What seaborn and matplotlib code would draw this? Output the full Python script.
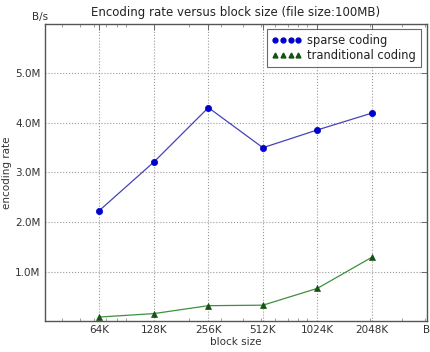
import matplotlib
matplotlib.use("Agg")
import matplotlib.pyplot as plt
from matplotlib.lines import Line2D
from matplotlib.ticker import LogLocator, NullFormatter
import seaborn as sns
import pandas as pd

# block sizes in KB and encoding rates in MB/s
block_sizes = [64, 128, 256, 512, 1024, 2048]
block_labels = ["64K", "128K", "256K", "512K", "1024K", "2048K"]
sparse_rate = [2.23, 3.21, 4.31, 3.50, 3.86, 4.20]
traditional_rate = [0.08, 0.15, 0.31, 0.32, 0.66, 1.29]
y_ticks = [1, 2, 3, 4, 5]
y_labels = ["1.0M", "2.0M", "3.0M", "4.0M", "5.0M"]

sns.set_style("white")
plt.rcParams["font.family"] = ["DejaVu Sans"]
plt.rcParams["xtick.direction"] = "in"
plt.rcParams["ytick.direction"] = "in"

df = pd.DataFrame({
    "block": block_sizes * 2,
    "rate": sparse_rate + traditional_rate,
    "series": ["sparse coding"] * 6 + ["tranditional coding"] * 6,
})

fig = plt.figure(figsize=(4.3, 3.52), dpi=100)
ax = fig.add_axes([0.104, 0.088, 0.888, 0.844])

sp = df[df.series == "sparse coding"]
tr = df[df.series == "tranditional coding"]
sns.lineplot(data=sp, x="block", y="rate", ax=ax, color="#4444bb", lw=0.9,
             marker="o", markersize=4.5, markerfacecolor="#0000cc",
             markeredgecolor="#0000cc", markeredgewidth=0.5)
sns.lineplot(data=tr, x="block", y="rate", ax=ax, color="#3f8f3f", lw=0.9,
             marker="^", markersize=4.5, markerfacecolor="#145214",
             markeredgecolor="#145214", markeredgewidth=0.5)

ax.set_xscale("log")
ax.set_xlim(32, 4096)
ax.set_ylim(0, 6)
ax.set_xticks(block_sizes + [4096])
ax.set_xticklabels(block_labels + ["B"])
ax.xaxis.set_minor_locator(LogLocator(base=10, subs=range(2, 10)))
ax.xaxis.set_minor_formatter(NullFormatter())
ax.set_yticks(y_ticks)
ax.set_yticklabels(y_labels)

ax.tick_params(axis="both", which="major", labelsize=7.5, length=4, width=0.6,
               color="#555555", top=True, right=True, labelcolor="#333333", pad=3)
ax.tick_params(axis="x", which="minor", length=2, width=0.5, color="#777777",
               top=True, bottom=True)

ax.grid(True, which="major", linestyle=":", color="#999999", linewidth=0.8)
for s in ax.spines.values():
    s.set_color("#555555")
    s.set_linewidth(1.0)

ax.set_title("Encoding rate versus block size (file size:100MB)",
             fontsize=8.5, color="#222222", pad=6)
ax.set_xlabel("block size", fontsize=7.5, color="#333333", labelpad=1)
ax.set_ylabel("encoding rate", fontsize=7.5, color="#333333", labelpad=2)
ax.text(0.008, 1.005, "B/s", transform=ax.transAxes, ha="right", va="bottom",
        fontsize=7.5, color="#333333")

handles = [
    Line2D([], [], ls="", marker="o", markersize=3.5, color="#0000cc"),
    Line2D([], [], ls="", marker="^", markersize=3.5, color="#145214"),
]
leg = ax.legend(handles, ["sparse coding", "tranditional coding"],
                loc="upper right", numpoints=4, fontsize=8.3, frameon=True,
                fancybox=False, handlelength=2.6, handletextpad=0.5,
                borderaxespad=0.45, labelspacing=0.15, borderpad=0.45)
leg.get_frame().set_edgecolor("#444444")
leg.get_frame().set_linewidth(0.8)
for t in leg.get_texts():
    t.set_color("#222222")

fig.savefig("out.png", dpi=100)
